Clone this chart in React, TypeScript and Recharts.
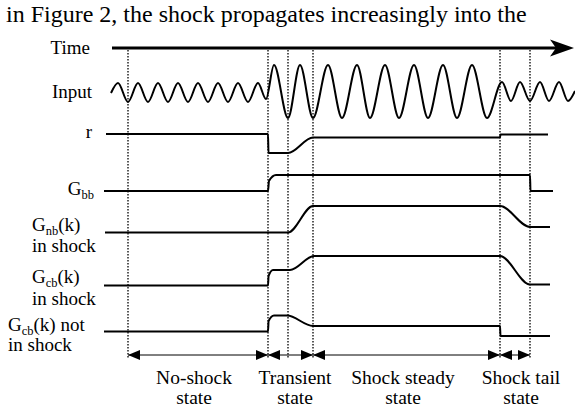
import { LineChart, Line, XAxis, YAxis, ReferenceDot } from 'recharts';

// diagram units: x = time position, y = signal level (both in drawing units, y grows downwards)
const W = 575;
const H = 410;

const caption = 'in Figure 2, the shock propagates increasingly into the';

const phaseBounds = [128, 268, 288, 313, 500, 530];
const phaseNames = [
  ['No-shock', 'state'],
  ['Transient', 'state'],
  ['Shock steady', 'state'],
  ['Shock tail', 'state'],
];
const phaseCenters = [194, 295, 403, 521];

const inputTimes = [111, 118, 128, 138, 148, 158, 168, 178, 188, 198, 208, 218, 228, 238, 248, 258, 266, 274, 288, 300, 313, 328, 342, 357, 370, 385, 399, 414, 428, 443, 457, 472, 487, 502, 511, 520, 530, 540, 549, 559, 568, 575];
const inputValues = [93, 83, 102, 83, 102, 83, 102, 83, 102, 83, 102, 83, 102, 83, 102, 83, 99, 65, 118, 65, 118, 65, 118, 65, 118, 65, 118, 65, 118, 65, 118, 65, 118, 82, 101, 82, 101, 82, 101, 82, 101, 91];

const rTimes = [106, 268, 268.5, 288, 313, 500, 500.5, 548];
const rValues = [134, 134, 153, 153, 137.5, 137.5, 134.5, 134.5];

const gbbTimes = [104, 268, 269, 276, 530, 530.5, 553];
const gbbValues = [191, 191, 181, 175, 175, 191, 191];

const gnbTimes = [105, 288, 313, 500, 530, 550];
const gnbValues = [232.5, 232.5, 206, 206, 227, 227];

const gcbInTimes = [104, 268, 268.6, 273, 290, 314, 500, 530, 550];
const gcbInValues = [285.5, 285.5, 276, 270, 270, 256, 256, 284.5, 284.5];

const gcbOutTimes = [104, 268, 268.6, 274, 287, 313, 500, 500.5, 550];
const gcbOutValues = [331.5, 331.5, 321, 315.5, 315.5, 326, 326, 336, 336];

const signalNames = ['Time', 'Input', 'r', 'G_{bb}', 'G_{nb}(k)', 'in shock', 'G_{cb}(k)', 'in shock', 'G_{cb}(k) not', 'in shock'];

// where the row labels sit
const labelPos: { x: number; y: number; anchor: 'start' | 'end' }[] = [
  { x: 90, y: 54, anchor: 'end' },
  { x: 92, y: 98, anchor: 'end' },
  { x: 92, y: 138, anchor: 'end' },
  { x: 94, y: 195, anchor: 'end' },
  { x: 32, y: 231, anchor: 'start' },
  { x: 32, y: 252, anchor: 'start' },
  { x: 32, y: 283, anchor: 'start' },
  { x: 32, y: 305, anchor: 'start' },
  { x: 8, y: 331, anchor: 'start' },
  { x: 8, y: 351, anchor: 'start' },
];

const FONT = '"Liberation Serif", "Times New Roman", serif';
const TIME_Y = 48;
const PHASE_Y = 355;
const DOT_TOP = 50;
const DOT_BOTTOM = 358;

const toPoints = (t: number[], v: number[]) => t.map((x, i) => ({ x, y: v[i] }));

const withSubs = (s: string) => {
  const out: any[] = [];
  const re = /_\{([^}]*)\}/g;
  let last = 0;
  let shifted = false;
  let m: RegExpExecArray | null;
  let k = 0;
  while ((m = re.exec(s))) {
    if (m.index > last) {
      out.push(<tspan key={k++} dy={shifted ? -4 : 0}>{s.slice(last, m.index)}</tspan>);
      shifted = false;
    }
    out.push(<tspan key={k++} fontSize={12.5} dy={4}>{m[1]}</tspan>);
    shifted = true;
    last = re.lastIndex;
  }
  if (last < s.length) out.push(<tspan key={k++} dy={shifted ? -4 : 0}>{s.slice(last)}</tspan>);
  return out;
};

const textShape = (s: string, anchor: string, size: number) => (p: any) => (
  <text x={p.cx} y={p.cy} textAnchor={anchor} fontSize={size} fontFamily={FONT} fill="#000">
    {withSubs(s)}
  </text>
);

const headShape = (dir: number) => (p: any) => {
  const { cx, cy } = p;
  const len = 12;
  return (
    <polygon
      points={`${cx},${cy} ${cx - dir * len},${cy - 5} ${cx - dir * len},${cy + 5}`}
      fill="#000"
    />
  );
};

const timeHead = (p: any) => {
  const { cx, cy } = p;
  return <polygon points={`${cx},${cy} ${cx - 24},${cy - 8.5} ${cx - 18},${cy} ${cx - 24},${cy + 8.5}`} fill="#000" />;
};

const signals = [
  toPoints(rTimes, rValues),
  toPoints(gbbTimes, gbbValues),
  toPoints(gnbTimes, gnbValues),
  toPoints(gcbInTimes, gcbInValues),
  toPoints(gcbOutTimes, gcbOutValues),
];

const heads = [
  { x: phaseBounds[0], dir: -1 },
  { x: phaseBounds[1], dir: 1 },
  { x: phaseBounds[1], dir: -1 },
  { x: phaseBounds[3], dir: 1 },
  { x: phaseBounds[3], dir: -1 },
  { x: phaseBounds[4], dir: 1 },
  { x: phaseBounds[4], dir: -1 },
  { x: phaseBounds[5], dir: 1 },
];

export default function App() {
  return (
    <div style={{ position: 'absolute', left: 0, top: 0, width: W, height: H, background: '#fff' }}>
      <LineChart width={W} height={H} margin={{ top: 0, right: 0, bottom: 0, left: 0 }}>
        <XAxis type="number" dataKey="x" domain={[0, W]} hide allowDataOverflow />
        <YAxis type="number" dataKey="y" domain={[0, H]} reversed hide allowDataOverflow />

        {phaseBounds.map((t) => (
          <Line
            key={`b-${t}`}
            data={[{ x: t, y: DOT_TOP }, { x: t, y: DOT_BOTTOM }]}
            dataKey="y"
            type="linear"
            stroke="#000"
            strokeWidth={1.3}
            strokeDasharray="1.5 1.5"
            dot={false}
            activeDot={false}
            isAnimationActive={false}
          />
        ))}

        <Line
          data={[{ x: 112, y: TIME_Y }, { x: 556, y: TIME_Y }]}
          dataKey="y"
          type="linear"
          stroke="#000"
          strokeWidth={3.2}
          dot={false}
          activeDot={false}
          isAnimationActive={false}
        />
        <ReferenceDot x={574} y={TIME_Y} r={0} shape={timeHead} />

        <Line
          data={toPoints(inputTimes, inputValues)}
          dataKey="y"
          type="monotone"
          stroke="#000"
          strokeWidth={2}
          dot={false}
          activeDot={false}
          isAnimationActive={false}
        />

        {signals.map((d, i) => (
          <Line
            key={`s-${i}`}
            data={d}
            dataKey="y"
            type="monotone"
            stroke="#000"
            strokeWidth={2}
            dot={false}
            activeDot={false}
            isAnimationActive={false}
          />
        ))}

        <Line
          data={[{ x: phaseBounds[0], y: PHASE_Y }, { x: phaseBounds[5], y: PHASE_Y }]}
          dataKey="y"
          type="linear"
          stroke="#000"
          strokeWidth={1}
          dot={false}
          activeDot={false}
          isAnimationActive={false}
        />
        {heads.map((h, i) => (
          <ReferenceDot key={`h-${i}`} x={h.x} y={PHASE_Y} r={0} shape={headShape(h.dir)} />
        ))}

        <ReferenceDot x={6} y={22} r={0} shape={textShape(caption, 'start', 24)} />

        {signalNames.map((s, i) => (
          <ReferenceDot
            key={`l-${i}`}
            x={labelPos[i].x}
            y={labelPos[i].y}
            r={0}
            shape={textShape(s, labelPos[i].anchor, 19)}
          />
        ))}

        {phaseNames.map((lines, i) =>
          lines.map((s, j) => (
            <ReferenceDot
              key={`p-${i}-${j}`}
              x={phaseCenters[i]}
              y={384 + j * 20}
              r={0}
              shape={textShape(s, 'middle', 19.5)}
            />
          ))
        )}
      </LineChart>
    </div>
  );
}
